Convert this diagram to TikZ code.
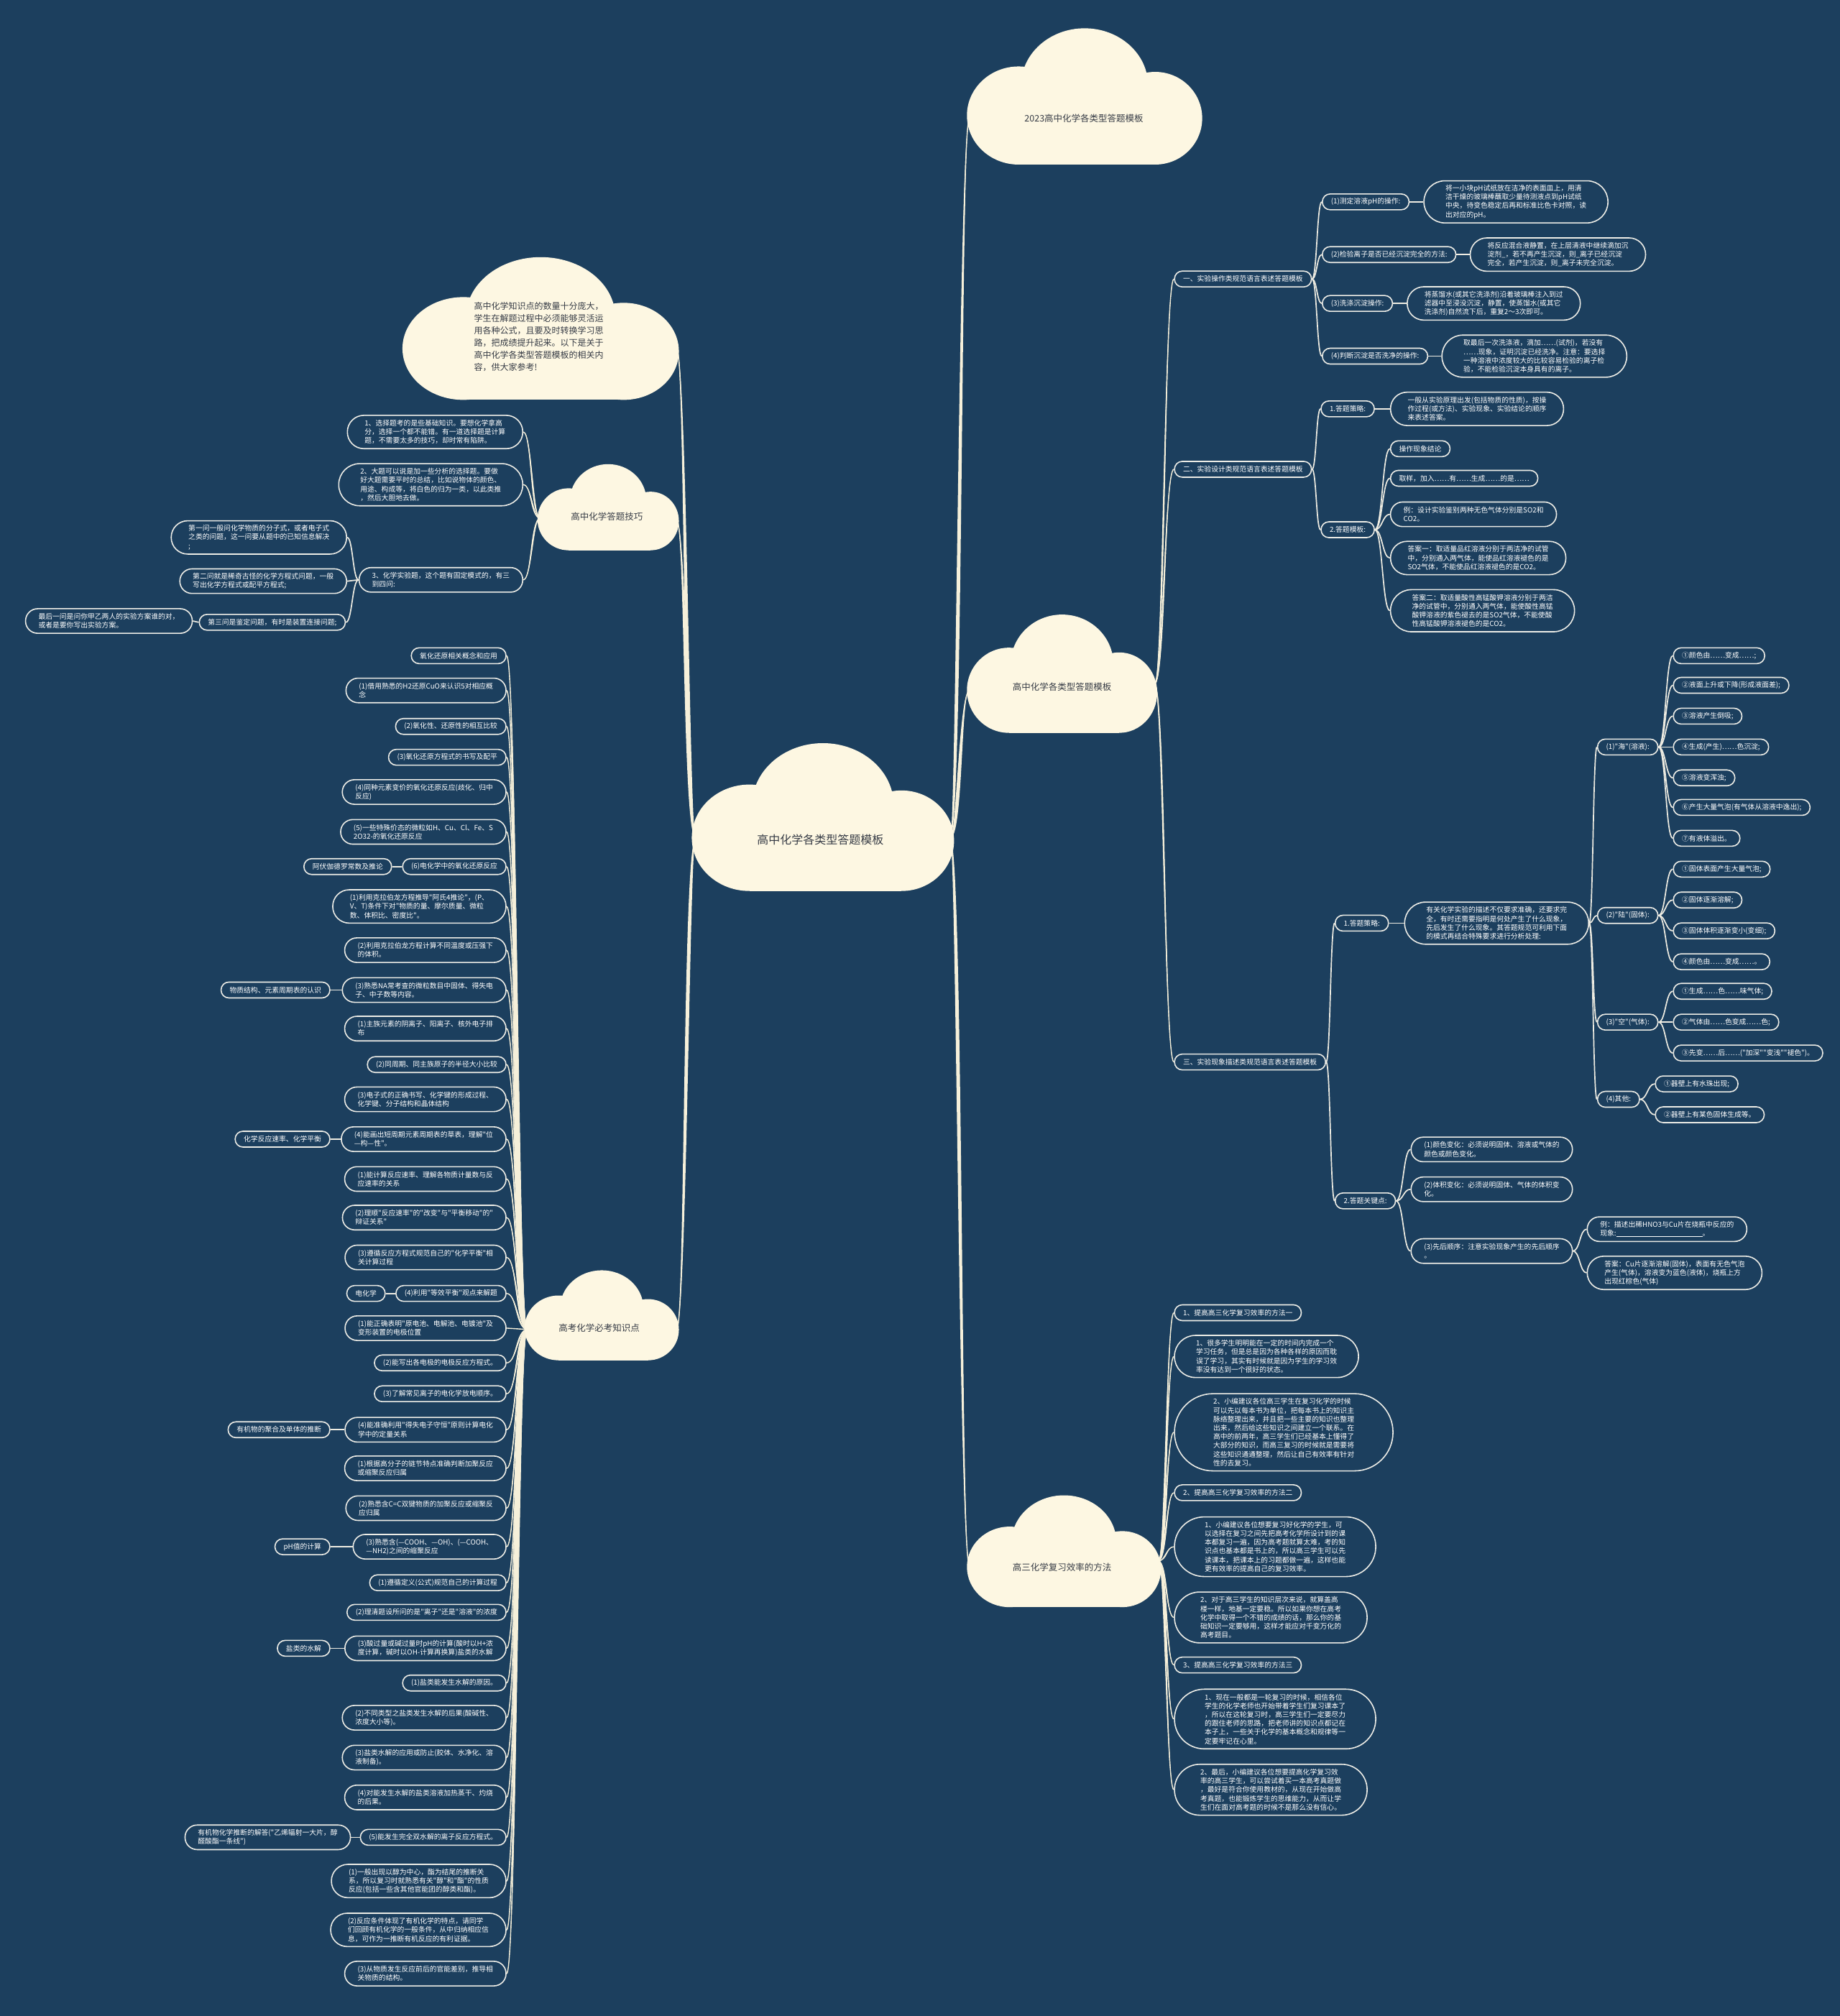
\documentclass[tikz,border=0pt]{standalone}
\usepackage{fontspec}
\newfontfamily\cjk{Noto Sans CJK SC}
\usetikzlibrary{calc}
\pgfdeclarelayer{lines}
\pgfsetlayers{lines,main}
\definecolor{bgc}{RGB}{28,63,94}
\definecolor{cloudc}{RGB}{253,247,226}
\definecolor{edgec}{RGB}{236,236,230}
\definecolor{linec}{RGB}{238,236,226}
\definecolor{trunkc}{RGB}{246,240,218}
\definecolor{ctc}{RGB}{55,60,70}
\tikzset{
 leaf/.style={rectangle, draw=edgec, line width=1.6pt, fill=bgc, text=white,
   font=\cjk\fontsize{9.8}{12.2}\selectfont, align=left, inner ysep=0pt,
   minimum height=22pt, inner xsep=12pt, rounded corners=10.8pt},
 n2/.style={minimum height=34.2pt, inner xsep=18pt, rounded corners=16.9pt},
 n3/.style={minimum height=46.4pt, inner xsep=24pt, rounded corners=23pt},
 n4/.style={minimum height=58.6pt, inner xsep=30pt, rounded corners=29.1pt},
 n5/.style={minimum height=70.8pt, inner xsep=36pt, rounded corners=35.2pt},
 n6/.style={minimum height=83pt, inner xsep=42pt, rounded corners=41.3pt},
 n8/.style={minimum height=107.4pt, inner xsep=54pt, rounded corners=53.5pt},
 lw/.style={leaf, anchor=west},
 le/.style={leaf, anchor=east},
 ctext/.style={text=ctc, font=\cjk\fontsize{12.5}{15}\selectfont, align=center},
 conn/.style={draw=linec, line width=1.7pt},
}
\newcommand\mmcloud[4]{%
 \pgfmathsetmacro\mmcw{#3-#1}%
 \pgfmathsetmacro\mmch{#4-#2}%
 \fill[cloudc] ({#1+0.22*\mmcw},{#2+0.64*\mmch}) ellipse [x radius={0.22*\mmcw*1.789pt}, y radius={0.36*\mmch*1.789pt}];
 \fill[cloudc] ({#1+0.5*\mmcw},{#2+0.42*\mmch}) ellipse [x radius={0.27*\mmcw*1.789pt}, y radius={0.42*\mmch*1.789pt}];
 \fill[cloudc] ({#1+0.8*\mmcw},{#2+0.66*\mmch}) ellipse [x radius={0.2*\mmcw*1.789pt}, y radius={0.34*\mmch*1.789pt}];
 \fill[cloudc] ({#1+0.22*\mmcw},{#2+0.6*\mmch}) rectangle ({#1+0.8*\mmcw},#4);
}
\newcommand\mmtaper[4]{%
 \fill[trunkc] let \p1=(#1), \p2=(#2) in (\p1) .. controls ({(\x1+\x2)/2-#3},\y1) and ({(\x1+\x2)/2-#4},\y2) .. (\p2) .. controls ({(\x1+\x2)/2+#4},\y2) and ({(\x1+\x2)/2+#3},\y1) .. (\p1) -- cycle;
 \draw[trunkc,line width=1.4pt] let \p1=(#1), \p2=(#2) in (\p1) .. controls ({(\x1+\x2)/2},\y1) and ({(\x1+\x2)/2},\y2) .. (\p2);
}
\newcommand\mmlink[2]{\draw[conn] let \p1=(#1), \p2=(#2) in (\p1) .. controls ({(\x1+\x2)/2},\y1) and ({(\x1+\x2)/2},\y2) .. (\p2);}
\begin{document}
\begin{tikzpicture}[x=1.789pt,y=-1.789pt]
\useasboundingbox (0,0) rectangle (1431,1568);
% ---------- clouds ----------
\mmcloud{538}{578}{742}{693}
\mmcloud{752}{22}{935}{128}
\mmcloud{752}{478}{900}{570}
\mmcloud{752}{1163}{903}{1250}
\mmcloud{313}{200}{528}{311}
\mmcloud{418}{361}{528}{428}
\mmcloud{408}{988}{528}{1058}
\node[ctext, font=\cjk\fontsize{16}{19}\selectfont] (t0) at (638,653) {高中化学各类型答题模板};
\node[ctext] (tA) at (843,92) {2023高中化学各类型答题模板};
\node[ctext] (tB) at (826,534) {高中化学各类型答题模板};
\node[ctext] (tC) at (826,1219) {高三化学复习效率的方法};
\node[ctext, align=left, font=\cjk\fontsize{12}{17}\selectfont] (tI) at (419,262) {高中化学知识点的数量十分庞大，\\学生在解题过程中必须能够灵活运\\用各种公式，且要及时转换学习思\\路，把成绩提升起来。以下是关于\\高中化学各类型答题模板的相关内\\容，供大家参考!};
\node[ctext] (tD) at (472,402) {高中化学答题技巧};
\node[ctext] (tE) at (466,1033) {高考化学必考知识点};
\coordinate (c0L) at (541,652);
\coordinate (c0R) at (739,652);
\coordinate (cAw) at (754,92);
\coordinate (cBw) at (754,537);
\coordinate (cBe) at (898,532);
\coordinate (cCw) at (754,1218);
\coordinate (cCe) at (901,1214);
\coordinate (cIe) at (526,270);
\coordinate (cDe) at (526,404);
\coordinate (cDw) at (420,403);
\coordinate (cEe) at (526,1035);
\coordinate (cEw) at (410,1034);
% ---------- section one ----------
\node[lw] (s1) at (913,217) {一、实验操作类规范语言表述答题模板};
\node[lw] (a1) at (1028,157) {(1)测定溶液pH的操作:};
\node[lw] (a2) at (1028,198) {(2)检验离子是否已经沉淀完全的方法:};
\node[lw] (a3) at (1028,236) {(3)洗涤沉淀操作:};
\node[lw] (a4) at (1028,277) {(4)判断沉淀是否洗净的操作:};
\node[lw,n4] (a1c) at (1107,157) {将一小块pH试纸放在洁净的表面皿上，用清\\洁干燥的玻璃棒蘸取少量待测液点到pH试纸\\中央，待变色稳定后再和标准比色卡对照，读\\出对应的pH。};
\node[lw,n3] (a2c) at (1143,198) {将反应混合液静置，在上层清液中继续滴加沉\\淀剂\_，若不再产生沉淀，则\_离子已经沉淀\\完全，若产生沉淀，则\_离子未完全沉淀。};
\node[lw,n3] (a3c) at (1094,236) {将蒸馏水(或其它洗涤剂)沿着玻璃棒注入到过\\滤器中至浸没沉淀，静置，使蒸馏水(或其它\\洗涤剂)自然流下后，重复2～3次即可。};
\node[lw,n4] (a4c) at (1121,277) {取最后一次洗涤液，滴加……(试剂)，若没有\\……现象，证明沉淀已经洗净。注意：要选择\\一种溶液中浓度较大的比较容易检验的离子检\\验，不能检验沉淀本身具有的离子。};
% ---------- section two ----------
\node[lw] (s2) at (913,365) {二、实验设计类规范语言表述答题模板};
\node[lw] (b1) at (1027,318) {1.答题策略:};
\node[lw,n3] (b1c) at (1081,318) {一般从实验原理出发(包括物质的性质)，按操\\作过程(或方法)、实验现象、实验结论的顺序\\来表述答案。};
\node[lw] (b2) at (1027,412) {2.答题模板:};
\node[lw] (b2a) at (1081,349) {操作现象结论};
\node[lw] (b2b) at (1081,372) {取样，加入……有……生成……的是……};
\node[lw,n2] (b2c) at (1081,400) {例：设计实验鉴别两种无色气体分别是SO2和\\CO2。};
\node[lw,n3] (b2d) at (1081,434) {答案一：取适量品红溶液分别于两洁净的试管\\中，分别通入两气体，能使品红溶液褪色的是\\SO2气体，不能使品红溶液褪色的是CO2。};
\node[lw,n4] (b2e) at (1081,475) {答案二：取适量酸性高锰酸钾溶液分别于两洁\\净的试管中，分别通入两气体，能使酸性高锰\\酸钾溶液的紫色褪去的是SO2气体，不能使酸\\性高锰酸钾溶液褪色的是CO2。};
% ---------- section three ----------
\node[lw] (s3) at (913,826) {三、实验现象描述类规范语言表述答题模板};
\node[lw] (c1) at (1038,718) {1.答题策略:};
\node[lw,n4] (c1c) at (1092,718) {有关化学实验的描述不仅要求准确，还要求完\\全，有时还需要指明是何处产生了什么现象，\\先后发生了什么现象。其答题规范可利用下面\\的模式再结合特殊要求进行分析处理:};
\node[lw] (h1) at (1242,581) {(1)"海"(溶液):};
\node[lw] (h2) at (1242,712) {(2)"陆"(固体):};
\node[lw] (h3) at (1242,795) {(3)"空"(气体):};
\node[lw] (h4) at (1242,855) {(4)其他:};
\node[lw] (h1a) at (1301,510) {①颜色由……变成……;};
\node[lw] (h1b) at (1301,533) {②液面上升或下降(形成液面差);};
\node[lw] (h1c) at (1301,557) {③溶液产生倒吸;};
\node[lw] (h1d) at (1301,581) {④生成(产生)……色沉淀;};
\node[lw] (h1e) at (1301,605) {⑤溶液变浑浊;};
\node[lw] (h1f) at (1301,628) {⑥产生大量气泡(有气体从溶液中逸出);};
\node[lw] (h1g) at (1301,652) {⑦有液体溢出。};
\node[lw] (h2a) at (1301,676) {①固体表面产生大量气泡;};
\node[lw] (h2b) at (1301,700) {②固体逐渐溶解;};
\node[lw] (h2c) at (1301,724) {③固体体积逐渐变小(变细);};
\node[lw] (h2d) at (1301,748) {④颜色由……变成……。};
\node[lw] (h3a) at (1301,771) {①生成……色……味气体;};
\node[lw] (h3b) at (1301,795) {②气体由……色变成……色;};
\node[lw] (h3c) at (1301,819) {③先变……后……("加深""变浅""褪色")。};
\node[lw] (h4a) at (1287,843) {①器壁上有水珠出现;};
\node[lw] (h4b) at (1287,867) {②器壁上有某色固体生成等。};
\node[lw] (c2) at (1038,934) {2.答题关键点:};
\node[lw,n2] (k1) at (1097,894) {(1)颜色变化：必须说明固体、溶液或气体的\\颜色或颜色变化。};
\node[lw,n2] (k2) at (1097,925) {(2)体积变化：必须说明固体、气体的体积变\\化。};
\node[lw,n2] (k3) at (1097,973) {(3)先后顺序：注意实验现象产生的先后顺序\\。};
\node[lw,n2] (k3a) at (1234,956) {例：描述出稀HNO3与Cu片在烧瓶中反应的\\现象:\rule[-1pt]{120pt}{0.6pt}。};
\node[lw,n3] (k3b) at (1234,990) {答案：Cu片逐渐溶解(固体)，表面有无色气泡\\产生(气体)，溶液变为蓝色(液体)，烧瓶上方\\出现红棕色(气体)};
% ---------- review methods ----------
\node[lw] (m1) at (913,1021) {1、提高高三化学复习效率的方法一};
\node[lw,n4] (m2) at (913,1055) {1、很多学生明明能在一定的时间内完成一个\\学习任务，但是总是因为各种各样的原因而耽\\误了学习，其实有时候就是因为学生的学习效\\率没有达到一个很好的状态。};
\node[lw,n8] (m3) at (913,1114) {2、小编建议各位高三学生在复习化学的时候\\可以先以每本书为单位，把每本书上的知识主\\脉络整理出来，并且把一些主要的知识也整理\\出来，然后给这些知识之间建立一个联系。在\\高中的前两年，高三学生们已经基本上懂得了\\大部分的知识，而高三复习的时候就是需要将\\这些知识通通整理，然后让自己有效率有针对\\性的去复习。};
\node[lw] (m4) at (913,1161) {2、提高高三化学复习效率的方法二};
\node[lw,n6] (m5) at (913,1203) {1、小编建议各位想要复习好化学的学生，可\\以选择在复习之间先把高考化学所设计到的课\\本都复习一遍，因为高考题就算太难，考的知\\识点也基本都是书上的，所以高三学生可以先\\读课本，把课本上的习题都做一遍，这样也能\\更有效率的提高自己的复习效率。};
\node[lw,n5] (m6) at (913,1258) {2、对于高三学生的知识层次来说，就算盖高\\楼一样，地基一定要稳。所以如果你想在高考\\化学中取得一个不错的成绩的话，那么你的基\\础知识一定要够用，这样才能应对千变万化的\\高考题目。};
\node[lw] (m7) at (913,1295) {3、提高高三化学复习效率的方法三};
\node[lw,n6] (m8) at (913,1337) {1、现在一般都是一轮复习的时候，相信各位\\学生的化学老师也开始带着学生们复习课本了\\，所以在这轮复习时，高三学生们一定要尽力\\的跟住老师的思路，把老师讲的知识点都记在\\本子上，一些关于化学的基本概念和规律等一\\定要牢记在心里。};
\node[lw,n5] (m9) at (913,1392) {2、最后，小编建议各位想要提高化学复习效\\率的高三学生，可以尝试着买一本高考真题做\\，最好是符合你使用教材的，从现在开始做高\\考真题，也能锻炼学生的思维能力，从而让学\\生们在面对高考题的时候不是那么没有信心。};
% ---------- answering skills ----------
\node[le,n3] (d1) at (407,336) {1、选择题考的是些基础知识。要想化学拿高\\分，选择一个都不能错。有一道选择题是计算\\题，不需要太多的技巧，却时常有陷阱。};
\node[le,n4] (d2) at (407,377) {2、大题可以说是加一些分析的选择题。要做\\好大题需要平时的总结，比如说物体的颜色、\\用途、构成等，将白色的归为一类，以此类推\\，然后大胆地去做。};
\node[le,n2] (d3) at (407,451) {3、化学实验题，这个题有固定模式的，有三\\到四问:};
\node[le,n3] (d3a) at (270,418) {第一问一般问化学物质的分子式，或者电子式\\之类的问题，这一问要从题中的已知信息解决\\;};
\node[le,n2] (d3b) at (270,452) {第二问就是稀奇古怪的化学方程式问题，一般\\写出化学方程式或配平方程式;};
\node[le] (d3c) at (269,484) {第三问是鉴定问题，有时是装置连接问题;};
\node[le,n2] (d3d) at (150,483) {最后一问是问你甲乙两人的实验方案谁的对，\\或者是要你写出实验方案。};
% ---------- exam knowledge points ----------
\node[le] (e1) at (394,510) {氧化还原相关概念和应用};
\node[le,n2] (e2) at (394,537) {(1)借用熟悉的H2还原CuO来认识5对相应概\\念};
\node[le] (e3) at (394,565) {(2)氧化性、还原性的相互比较};
\node[le] (e4) at (394,589) {(3)氧化还原方程式的书写及配平};
\node[le,n2] (e5) at (394,616) {(4)同种元素变价的氧化还原反应(歧化、归中\\反应)};
\node[le,n2] (e6) at (394,647) {(5)一些特殊价态的微粒如H、Cu、Cl、Fe、S\\2O32-的氧化还原反应};
\node[le] (e7) at (394,674) {(6)电化学中的氧化还原反应};
\node[le,n3] (e8) at (394,705) {(1)利用克拉伯龙方程推导"阿氏4推论"，(P、\\V、T)条件下对"物质的量、摩尔质量、微粒\\数、体积比、密度比"。};
\node[le,n2] (e9) at (394,739) {(2)利用克拉伯龙方程计算不同温度或压强下\\的体积。};
\node[le,n2] (e10) at (394,770) {(3)熟悉NA常考查的微粒数目中固体、得失电\\子、中子数等内容。};
\node[le,n2] (e11) at (394,800) {(1)主族元素的阴离子、阳离子、核外电子排\\布};
\node[le] (e12) at (394,828) {(2)同周期、同主族原子的半径大小比较};
\node[le,n2] (e13) at (394,855) {(3)电子式的正确书写、化学键的形成过程、\\化学键、分子结构和晶体结构};
\node[le,n2] (e14) at (394,886) {(4)能画出短周期元素周期表的草表，理解"位\\—构—性"。};
\node[le,n2] (e15) at (394,917) {(1)能计算反应速率、理解各物质计量数与反\\应速率的关系};
\node[le,n2] (e16) at (394,947) {(2)理顺"反应速率"的"改变"与"平衡移动"的"\\辩证关系"};
\node[le,n2] (e17) at (394,978) {(3)遵循反应方程式规范自己的"化学平衡"相\\关计算过程};
\node[le] (e18) at (394,1006) {(4)利用"等效平衡"观点来解题};
\node[le,n2] (e19) at (394,1033) {(1)能正确表明"原电池、电解池、电镀池"及\\变形装置的电极位置};
\node[le] (e20) at (394,1060) {(2)能写出各电极的电极反应方程式。};
\node[le] (e21) at (394,1084) {(3)了解常见离子的电化学放电顺序。};
\node[le,n2] (e22) at (394,1112) {(4)能准确利用"得失电子守恒"原则计算电化\\学中的定量关系};
\node[le,n2] (e23) at (394,1142) {(1)根据高分子的链节特点准确判断加聚反应\\或缩聚反应归属};
\node[le,n2] (e24) at (394,1173) {(2)熟悉含C=C双键物质的加聚反应或缩聚反\\应归属};
\node[le,n2] (e25) at (394,1203) {(3)熟悉含(—COOH、—OH)、(—COOH、\\—NH2)之间的缩聚反应};
\node[le] (e26) at (394,1231) {(1)遵循定义(公式)规范自己的计算过程};
\node[le] (e27) at (394,1254) {(2)理清题设所问的是"离子"还是"溶液"的浓度};
\node[le,n2] (e28) at (394,1282) {(3)酸过量或碱过量时pH的计算(酸时以H+浓\\度计算，碱时以OH-计算再换算)盐类的水解};
\node[le] (e29) at (394,1309) {(1)盐类能发生水解的原因。};
\node[le,n2] (e30) at (394,1336) {(2)不同类型之盐类发生水解的后果(酸碱性、\\浓度大小等)。};
\node[le,n2] (e31) at (394,1367) {(3)盐类水解的应用或防止(胶体、水净化、溶\\液制备)。};
\node[le,n2] (e32) at (394,1398) {(4)对能发生水解的盐类溶液加热蒸干、灼烧\\的后果。};
\node[le] (e33) at (394,1429) {(5)能发生完全双水解的离子反应方程式。};
\node[le,n3] (e34) at (394,1463) {(1)一般出现以醇为中心，酯为结尾的推断关\\系，所以复习时就熟悉有关"醇"和"酯"的性质\\反应(包括一些含其他官能团的醇类和酯)。};
\node[le,n3] (e35) at (394,1501) {(2)反应条件体现了有机化学的特点，请同学\\们回顾有机化学的一般条件，从中归纳相应信\\息，可作为一推断有机反应的有利证据。};
\node[le,n2] (e36) at (394,1535) {(3)从物质发生反应前后的官能差别，推导相\\关物质的结构。};
\node[le] (f7) at (305,674) {阿伏伽德罗常数及推论};
\node[le] (f10) at (257,770) {物质结构、元素周期表的认识};
\node[le] (f14) at (257,886) {化学反应速率、化学平衡};
\node[le] (f18) at (300,1006) {电化学};
\node[le] (f22) at (257,1112) {有机物的聚合及单体的推断};
\node[le] (f25) at (257,1203) {pH值的计算};
\node[le] (f28) at (257,1282) {盐类的水解};
\node[le,n2] (f33) at (273,1429) {有机物化学推断的解答("乙烯辐射一大片，醇\\醛酸酯一条线")};
% ---------- connectors ----------
\begin{pgfonlayer}{lines}
\fill[bgc] (0,0) rectangle (1431,1568);
\mmtaper{c0R}{cAw}{5pt}{1.2pt}
\mmtaper{c0R}{cBw}{5pt}{1.2pt}
\mmtaper{c0R}{cCw}{5pt}{1.2pt}
\mmtaper{c0L}{cIe}{5pt}{1.2pt}
\mmtaper{c0L}{cDe}{5pt}{1.2pt}
\mmtaper{c0L}{cEe}{5pt}{1.2pt}
\foreach \nm in {s1,s2,s3} {\mmtaper{cBe}{\nm.west}{2.5pt}{0.4pt}}
\foreach \nm in {m1,m2,m3,m4,m5,m6,m7,m8,m9} {\mmtaper{cCe}{\nm.west}{2.5pt}{0.4pt}}
\foreach \nm in {d1,d2,d3} {\mmtaper{cDw}{\nm.east}{2.5pt}{0.4pt}}
\foreach \i in {1,...,36} {\mmtaper{cEw}{e\i.east}{2.5pt}{0.4pt}}
\foreach \nm in {a1,a2,a3,a4} {\mmlink{s1.east}{\nm.west}}
\foreach \nm in {a1,a2,a3,a4} {\mmlink{\nm.east}{\nm c.west}}
\foreach \nm in {b1,b2} {\mmlink{s2.east}{\nm.west}}
\mmlink{b1.east}{b1c.west}
\foreach \nm in {b2a,b2b,b2c,b2d,b2e} {\mmlink{b2.east}{\nm.west}}
\foreach \nm in {c1,c2} {\mmlink{s3.east}{\nm.west}}
\mmlink{c1.east}{c1c.west}
\foreach \nm in {h1,h2,h3,h4} {\mmlink{c1c.east}{\nm.west}}
\foreach \nm in {a,b,c,d,e,f,g} {\mmlink{h1.east}{h1\nm.west}}
\foreach \nm in {a,b,c,d} {\mmlink{h2.east}{h2\nm.west}}
\foreach \nm in {a,b,c} {\mmlink{h3.east}{h3\nm.west}}
\foreach \nm in {a,b} {\mmlink{h4.east}{h4\nm.west}}
\foreach \nm in {k1,k2,k3} {\mmlink{c2.east}{\nm.west}}
\foreach \nm in {k3a,k3b} {\mmlink{k3.east}{\nm.west}}
\foreach \nm in {d3a,d3b,d3c} {\mmlink{d3.west}{\nm.east}}
\mmlink{d3c.west}{d3d.east}
\foreach \i in {7,10,14,18,22,25,28,33} {\mmlink{e\i.west}{f\i.east}}
\end{pgfonlayer}
\end{tikzpicture}
\end{document}
